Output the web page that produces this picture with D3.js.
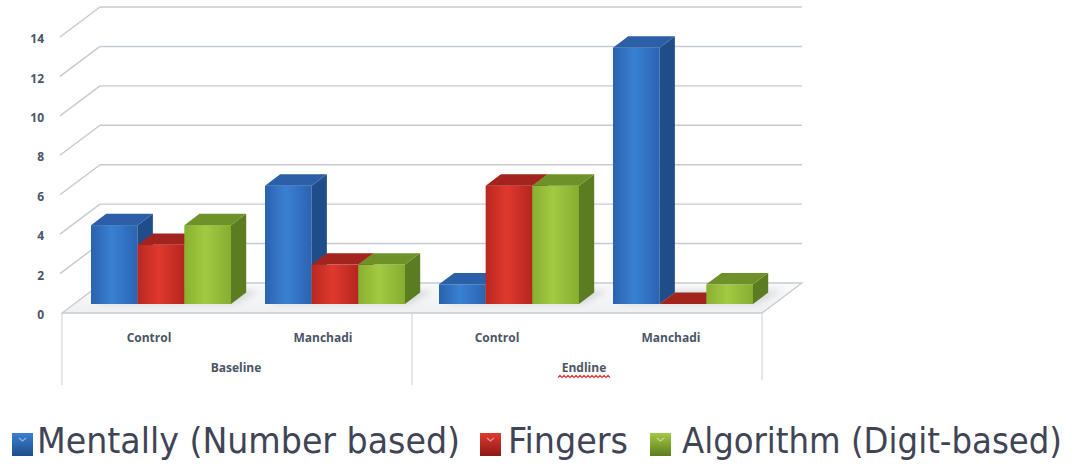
<!DOCTYPE html>
<html>
<head>
<meta charset="utf-8">
<script src="https://cdn.jsdelivr.net/npm/d3@7"></script>
<style>
  html, body { margin: 0; padding: 0; background: #ffffff; }
  svg { display: block; }
</style>
</head>
<body>
<script>
// ---- data ----
const phases = ["Baseline", "Baseline", "Endline", "Endline"];
const groups = ["Control", "Manchadi", "Control", "Manchadi"];
const seriesNames = ["Mentally (Number based)", "Fingers", "Algorithm (Digit-based)"];
const mentally = [4, 6, 1, 13];
const fingers = [3, 2, 6, 0];
const algorithm = [4, 2, 6, 1];
const yTicks = [0, 2, 4, 6, 8, 10, 12, 14];
const phaseLabels = ["Baseline", "Endline"];

const seriesValues = [mentally, fingers, algorithm];

// ---- layout ----
const W = 1080, H = 468;
const front = { left: 62, right: 758 };
const depth = { x: 40, y: -30 };          // full depth of the floor / walls
const barOffset = 0.3;                     // where bars start in depth
const barDepth = 0.38;                     // bar thickness in depth

const palettes = [
  { name: "blue",  front: ["#2a62ae", "#3a80d2", "#2b63b0"], side: "#1f4d8a", top: "#2b5fa7" },
  { name: "red",   front: ["#b9281f", "#e0392e", "#b5261e"], side: "#8b1a15", top: "#a3231d" },
  { name: "green", front: ["#89b131", "#a3ca43", "#86ad30"], side: "#5c7c21", top: "#6f9129" }
];

const svg = d3.select("body").append("svg")
  .attr("width", W).attr("height", H)
  .attr("viewBox", `0 0 ${W} ${H}`);

const defs = svg.append("defs");
palettes.forEach(p => {
  const g = defs.append("linearGradient").attr("id", "front-" + p.name)
    .attr("x1", "0").attr("x2", "1").attr("y1", "0").attr("y2", "0");
  g.append("stop").attr("offset", "0%").attr("stop-color", p.front[0]);
  g.append("stop").attr("offset", "45%").attr("stop-color", p.front[1]);
  g.append("stop").attr("offset", "100%").attr("stop-color", p.front[2]);
  const l = defs.append("linearGradient").attr("id", "key-" + p.name)
    .attr("x1", "0").attr("x2", "0").attr("y1", "0").attr("y2", "1");
  l.append("stop").attr("offset", "0%").attr("stop-color", p.front[1]);
  l.append("stop").attr("offset", "100%").attr("stop-color", p.side);
});
const floorGrad = defs.append("linearGradient").attr("id", "floor")
  .attr("x1", "0").attr("x2", "0").attr("y1", "0").attr("y2", "1");
floorGrad.append("stop").attr("offset", "0%").attr("stop-color", "#f9fafb");
floorGrad.append("stop").attr("offset", "100%").attr("stop-color", "#eef0f2");
defs.append("filter").attr("id", "soft").attr("x", "-20%").attr("y", "-50%")
  .attr("width", "140%").attr("height", "200%")
  .append("feGaussianBlur").attr("stdDeviation", 3);

// ---- scales ----
const y = d3.scaleLinear().domain([0, 14]).range([313, 37]);
const keys = d3.range(groups.length);
const x = d3.scaleBand().domain(keys).range([front.left, front.right])
  .paddingInner(34 / 174).paddingOuter(17 / 174);
const xs = d3.scaleBand().domain(d3.range(seriesNames.length)).range([0, x.bandwidth()]);

const gridColor = "#c6cad1";

// ---- walls: gridlines on the back wall and the side wall ----
const grid = svg.append("g");
yTicks.filter(v => v > 0).forEach(v => {
  const fy = y(v);
  grid.append("line")
    .attr("x1", front.left - 2).attr("y1", fy)
    .attr("x2", front.left - 2 + depth.x).attr("y2", fy + depth.y)
    .attr("stroke", gridColor).attr("stroke-width", 1.4);
  grid.append("line")
    .attr("x1", front.left - 2 + depth.x).attr("y1", fy + depth.y)
    .attr("x2", 802).attr("y2", fy + depth.y)
    .attr("stroke", gridColor).attr("stroke-width", 1.4);
});

// ---- floor ----
const y0 = y(0);
svg.append("polygon")
  .attr("points", [
    [front.left, y0], [762, y0], [762 + depth.x, y0 + depth.y], [front.left + depth.x, y0 + depth.y]
  ].map(p => p.join(",")).join(" "))
  .attr("fill", "url(#floor)")
  .attr("stroke", gridColor).attr("stroke-width", 1.3);

// ---- y axis labels ----
svg.append("g").selectAll("text").data(yTicks).join("text")
  .attr("x", 44).attr("y", d => y(d) + 3)
  .attr("text-anchor", "end").attr("dominant-baseline", "middle")
  .attr("font-family", "'Open Sans', 'Liberation Sans', sans-serif")
  .attr("font-weight", "bold").attr("font-size", 12)
  .attr("fill", "#4b5566")
  .text(d => d);

// ---- bars ----
const bx = depth.x * barDepth, by = depth.y * barDepth;
const ox = depth.x * barOffset, oy = depth.y * barOffset;

// soft floor shadows behind each group
const shadows = svg.append("g").attr("filter", "url(#soft)").attr("opacity", 0.28);
keys.forEach(i => {
  const xl = x(i) + ox, xr = x(i) + ox + x.bandwidth();
  const b = y0 + oy;
  shadows.append("polygon")
    .attr("points", [[xl + 6, b], [xr + 4, b], [xr + bx + 14, b + by - 2], [xl + bx + 10, b + by - 2]]
      .map(p => p.join(",")).join(" "))
    .attr("fill", "#8a8f98");
});

const barsG = svg.append("g");
keys.forEach(i => {
  seriesValues.forEach((vals, s) => {
    const p = palettes[s];
    const v = vals[i];
    const xl = x(i) + xs(s) + ox;
    const w = xs.bandwidth();
    const yt = y(v) + oy;
    const yb = y(0) + oy;
    const g = barsG.append("g");
    if (yb - yt > 0.5) {
      g.append("rect").attr("x", xl).attr("y", yt).attr("width", w).attr("height", yb - yt)
        .attr("fill", `url(#front-${p.name})`);
      g.append("polygon")
        .attr("points", [[xl + w, yt], [xl + w + bx, yt + by], [xl + w + bx, yb + by], [xl + w, yb]]
          .map(q => q.join(",")).join(" "))
        .attr("fill", p.side);
    }
    g.append("polygon")
      .attr("points", [[xl, yt], [xl + bx, yt + by], [xl + w + bx, yt + by], [xl + w, yt]]
        .map(q => q.join(",")).join(" "))
      .attr("fill", p.top);
  });
});

// ---- category axis box ----
const axisColor = "#d3d6db";
const axisG = svg.append("g").attr("stroke", axisColor).attr("stroke-width", 1.2);
axisG.append("line").attr("x1", front.left).attr("y1", y0).attr("x2", front.left).attr("y2", 385);
axisG.append("line").attr("x1", 412).attr("y1", y0).attr("x2", 412).attr("y2", 385);
axisG.append("line").attr("x1", 762).attr("y1", y0).attr("x2", 762).attr("y2", 380);

const labelFont = "'Open Sans', 'Liberation Sans', sans-serif";
svg.append("g").selectAll("text").data(keys).join("text")
  .attr("x", i => x(i) + x.bandwidth() / 2)
  .attr("y", 339)
  .attr("text-anchor", "middle").attr("dominant-baseline", "middle")
  .attr("font-family", labelFont).attr("font-weight", "bold").attr("font-size", 12)
  .attr("fill", "#4b5566")
  .text(i => groups[i]);

const phaseCenters = phaseLabels.map(ph => {
  const idx = keys.filter(i => phases[i] === ph);
  return (x(idx[0]) + x(idx[idx.length - 1]) + x.bandwidth()) / 2;
});
svg.append("g").selectAll("text").data(phaseLabels).join("text")
  .attr("x", (d, k) => phaseCenters[k])
  .attr("y", 369)
  .attr("text-anchor", "middle").attr("dominant-baseline", "middle")
  .attr("font-family", labelFont).attr("font-weight", "bold").attr("font-size", 12)
  .attr("fill", "#4b5566")
  .text(d => d);

// spell-check squiggle under "Endline"
{
  const cx = phaseCenters[1], half = 26, yy = 376.5;
  const pts = d3.range(cx - half, cx + half + 0.1, 2).map((px, k) => [px, yy + (k % 2 ? -1.2 : 1.2)]);
  svg.append("path").attr("d", d3.line()(pts))
    .attr("fill", "none").attr("stroke", "#d9363e").attr("stroke-width", 1.1);
}

// ---- legend ----
const legendItems = [
  { name: seriesNames[0], key: 12, textX: 37, textW: 423 },
  { name: seriesNames[1], key: 480, textX: 508, textW: 120 },
  { name: seriesNames[2], key: 650, textX: 682, textW: 380 }
];
const legend = svg.append("g");
legendItems.forEach((it, s) => {
  legend.append("rect").attr("x", it.key).attr("y", 433).attr("width", 21).attr("height", 23)
    .attr("fill", `url(#key-${palettes[s].name})`);
  legend.append("path")
    .attr("d", `M${it.key + 7},${438} L${it.key + 10.5},${441} L${it.key + 14},${438}`)
    .attr("fill", "none").attr("stroke", "#ffffff").attr("stroke-opacity", 0.5).attr("stroke-width", 1.2);
  legend.append("text")
    .attr("x", it.textX).attr("y", 453)
    .attr("font-family", "'Liberation Sans Narrow', 'DejaVu Sans Condensed', 'Open Sans', sans-serif")
    .attr("font-size", 36)
    .attr("textLength", it.textW).attr("lengthAdjust", "spacingAndGlyphs")
    .attr("fill", "#3f4556")
    .text(it.name);
});
</script>
</body>
</html>
